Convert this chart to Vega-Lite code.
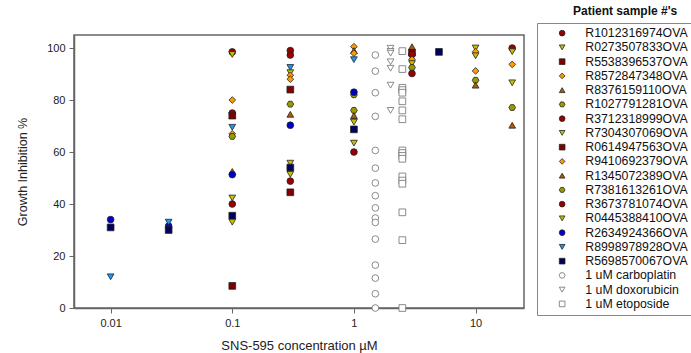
{
  "$schema": "https://vega.github.io/schema/vega-lite/v6.json",
  "width": 450,
  "height": 273,
  "autosize": "none",
  "padding": {"left": 74, "top": 35, "right": 167, "bottom": 45},
  "background": "white",
  "title": {"text": "Patient sample #'s", "anchor": "start", "frame": "group", "dx": 499, "offset": 5, "fontSize": 12, "fontWeight": "bold", "font": "Liberation Sans", "color": "#111"},
  "config": {
    "font": "Liberation Sans",
    "view": {"stroke": "#666", "strokeWidth": 1.5},
    "axis": {"grid": false, "domainColor": "#666", "domainWidth": 1.5, "tickColor": "#666", "tickWidth": 1, "tickSize": 5, "labelFontSize": 11, "labelColor": "#222", "titleFontSize": 13, "titleFontWeight": "normal", "titleColor": "#222", "labelFont": "Liberation Sans", "titleFont": "Liberation Sans"},
    "legend": {"orient": "none", "legendX": 463, "legendY": -12, "strokeColor": "#888", "padding": 4, "symbolOffset": 15, "labelOffset": 17, "labelFontSize": 12.3, "labelColor": "#111", "labelFont": "Liberation Sans", "symbolSize": 32, "symbolStrokeWidth": 0.8, "rowPadding": 1.25, "labelLimit": 200}
  },
  "data": {"values": [
    {"x": 0.01, "y": 34, "s": "R2634924366OVA"},
    {"x": 0.01, "y": 31, "s": "R5698570067OVA"},
    {"x": 0.01, "y": 12, "s": "R8998978928OVA"},
    {"x": 0.03, "y": 31.5, "s": "R2634924366OVA"},
    {"x": 0.03, "y": 30, "s": "R5698570067OVA"},
    {"x": 0.03, "y": 33, "s": "R8998978928OVA"},
    {"x": 0.1, "y": 98.5, "s": "R1012316974OVA"},
    {"x": 0.1, "y": 97.5, "s": "R0273507833OVA"},
    {"x": 0.1, "y": 80, "s": "\u00a0R8572847348OVA"},
    {"x": 0.1, "y": 75, "s": "R3712318999OVA"},
    {"x": 0.1, "y": 74, "s": "R8376159110OVA"},
    {"x": 0.1, "y": 74, "s": "R5538396537OVA"},
    {"x": 0.1, "y": 69.5, "s": "R8998978928OVA"},
    {"x": 0.1, "y": 67, "s": "R9410692379OVA"},
    {"x": 0.1, "y": 66, "s": "\u00a0R1027791281OVA"},
    {"x": 0.1, "y": 52.5, "s": "R1345072389OVA"},
    {"x": 0.1, "y": 51.3, "s": "R2634924366OVA"},
    {"x": 0.1, "y": 42.3, "s": "R7304307069OVA"},
    {"x": 0.1, "y": 40, "s": "\u00a0R3673781074OVA"},
    {"x": 0.1, "y": 35.5, "s": "R5698570067OVA"},
    {"x": 0.1, "y": 33, "s": "R0445388410OVA"},
    {"x": 0.1, "y": 8.5, "s": "R0614947563OVA"},
    {"x": 0.3, "y": 99, "s": "R1012316974OVA"},
    {"x": 0.3, "y": 97.3, "s": "R3712318999OVA"},
    {"x": 0.3, "y": 92.5, "s": "R8998978928OVA"},
    {"x": 0.3, "y": 90.5, "s": "R0273507833OVA"},
    {"x": 0.3, "y": 89.5, "s": "R9410692379OVA"},
    {"x": 0.3, "y": 88, "s": "\u00a0R8572847348OVA"},
    {"x": 0.3, "y": 84, "s": "R5538396537OVA"},
    {"x": 0.3, "y": 78.4, "s": "\u00a0R1027791281OVA"},
    {"x": 0.3, "y": 74.5, "s": "R8376159110OVA"},
    {"x": 0.3, "y": 70.3, "s": "R2634924366OVA"},
    {"x": 0.3, "y": 55.7, "s": "R7304307069OVA"},
    {"x": 0.3, "y": 54, "s": "R5698570067OVA"},
    {"x": 0.3, "y": 51.4, "s": "R0445388410OVA"},
    {"x": 0.3, "y": 48.8, "s": "\u00a0R3673781074OVA"},
    {"x": 0.3, "y": 44.5, "s": "R0614947563OVA"},
    {"x": 1, "y": 100.5, "s": "\u00a0R8572847348OVA"},
    {"x": 1, "y": 99, "s": "R8376159110OVA"},
    {"x": 1, "y": 98, "s": "R9410692379OVA"},
    {"x": 1, "y": 95.5, "s": "R8998978928OVA"},
    {"x": 1, "y": 82, "s": "R7381613261OVA"},
    {"x": 1, "y": 83, "s": "R2634924366OVA"},
    {"x": 1, "y": 76, "s": "\u00a0R1027791281OVA"},
    {"x": 1, "y": 74, "s": "R1345072389OVA"},
    {"x": 1, "y": 71.5, "s": "R7304307069OVA"},
    {"x": 1, "y": 68.7, "s": "R5698570067OVA"},
    {"x": 1, "y": 63.4, "s": "R0445388410OVA"},
    {"x": 1, "y": 60, "s": "\u00a0R3673781074OVA"},
    {"x": 3, "y": 100.5, "s": "R8376159110OVA"},
    {"x": 3, "y": 98.2, "s": "R0614947563OVA"},
    {"x": 3, "y": 97.5, "s": "R1012316974OVA"},
    {"x": 3, "y": 95.6, "s": "R9410692379OVA"},
    {"x": 3, "y": 94, "s": "R0273507833OVA"},
    {"x": 3, "y": 92.5, "s": "R7381613261OVA"},
    {"x": 3, "y": 90.2, "s": "R3712318999OVA"},
    {"x": 5, "y": 98.5, "s": "R5698570067OVA"},
    {"x": 10, "y": 100, "s": "R0273507833OVA"},
    {"x": 10, "y": 98.6, "s": "\u00a0R8572847348OVA"},
    {"x": 10, "y": 97, "s": "R7304307069OVA"},
    {"x": 10, "y": 91.2, "s": "R9410692379OVA"},
    {"x": 10, "y": 87.6, "s": "\u00a0R1027791281OVA"},
    {"x": 10, "y": 85.7, "s": "R8376159110OVA"},
    {"x": 20, "y": 100, "s": "R3712318999OVA"},
    {"x": 20, "y": 98.6, "s": "R0273507833OVA"},
    {"x": 20, "y": 93.7, "s": "\u00a0R8572847348OVA"},
    {"x": 20, "y": 86.6, "s": "R7304307069OVA"},
    {"x": 20, "y": 77.1, "s": "\u00a0R1027791281OVA"},
    {"x": 20, "y": 70.3, "s": "R8376159110OVA"},
    {"x": 1.5, "y": 97.3, "s": "1 uM carboplatin"},
    {"x": 1.5, "y": 91.1, "s": "1 uM carboplatin"},
    {"x": 1.5, "y": 82.8, "s": "1 uM carboplatin"},
    {"x": 1.5, "y": 73.7, "s": "1 uM carboplatin"},
    {"x": 1.5, "y": 60.6, "s": "1 uM carboplatin"},
    {"x": 1.5, "y": 53.8, "s": "1 uM carboplatin"},
    {"x": 1.5, "y": 48.1, "s": "1 uM carboplatin"},
    {"x": 1.5, "y": 43.2, "s": "1 uM carboplatin"},
    {"x": 1.5, "y": 38.5, "s": "1 uM carboplatin"},
    {"x": 1.5, "y": 34.6, "s": "1 uM carboplatin"},
    {"x": 1.5, "y": 32.9, "s": "1 uM carboplatin"},
    {"x": 1.5, "y": 26.5, "s": "1 uM carboplatin"},
    {"x": 1.5, "y": 16.5, "s": "1 uM carboplatin"},
    {"x": 1.5, "y": 11.5, "s": "1 uM carboplatin"},
    {"x": 1.5, "y": 5.5, "s": "1 uM carboplatin"},
    {"x": 1.5, "y": 0, "s": "1 uM carboplatin"},
    {"x": 2, "y": 99.9, "s": "1 uM doxorubicin"},
    {"x": 2, "y": 98.7, "s": "1 uM doxorubicin"},
    {"x": 2, "y": 98, "s": "1 uM doxorubicin"},
    {"x": 2, "y": 94.7, "s": "1 uM doxorubicin"},
    {"x": 2, "y": 92.2, "s": "1 uM doxorubicin"},
    {"x": 2, "y": 85.7, "s": "1 uM doxorubicin"},
    {"x": 2, "y": 76, "s": "1 uM doxorubicin"},
    {"x": 2.5, "y": 98.8, "s": "1 uM etoposide"},
    {"x": 2.5, "y": 91.9, "s": "1 uM etoposide"},
    {"x": 2.5, "y": 84.7, "s": "1 uM etoposide"},
    {"x": 2.5, "y": 83.8, "s": "1 uM etoposide"},
    {"x": 2.5, "y": 82.8, "s": "1 uM etoposide"},
    {"x": 2.5, "y": 79.5, "s": "1 uM etoposide"},
    {"x": 2.5, "y": 76, "s": "1 uM etoposide"},
    {"x": 2.5, "y": 72.6, "s": "1 uM etoposide"},
    {"x": 2.5, "y": 60.6, "s": "1 uM etoposide"},
    {"x": 2.5, "y": 59.6, "s": "1 uM etoposide"},
    {"x": 2.5, "y": 58.5, "s": "1 uM etoposide"},
    {"x": 2.5, "y": 57.4, "s": "1 uM etoposide"},
    {"x": 2.5, "y": 50.6, "s": "1 uM etoposide"},
    {"x": 2.5, "y": 49, "s": "1 uM etoposide"},
    {"x": 2.5, "y": 47.8, "s": "1 uM etoposide"},
    {"x": 2.5, "y": 36.8, "s": "1 uM etoposide"},
    {"x": 2.5, "y": 26.1, "s": "1 uM etoposide"},
    {"x": 2.5, "y": 0, "s": "1 uM etoposide"}
  ]},
  "mark": {"type": "point", "opacity": 1, "size": 45, "strokeWidth": 0.8, "clip": false},
  "encoding": {
    "x": {"field": "x", "type": "quantitative", "scale": {"type": "log", "domain": [0.005, 25], "nice": false},
      "axis": {"values": [0.01, 0.1, 1, 10], "format": "~g", "title": "SNS-595 concentration \u00b5M", "labelPadding": 4, "titlePadding": 11}},
    "y": {"field": "y", "type": "quantitative", "scale": {"domain": [0, 105], "nice": false},
      "axis": {"values": [0, 20, 40, 60, 80, 100], "title": "Growth Inhibition %", "titleFontSize": 12.5, "labelPadding": 4, "titlePadding": 17}},
    "fill": {"field": "s", "type": "nominal",
      "scale": {
        "domain": ["R1012316974OVA", "R0273507833OVA", "R5538396537OVA", "\u00a0R8572847348OVA", "R8376159110OVA", "\u00a0R1027791281OVA", "R3712318999OVA", "R7304307069OVA", "R0614947563OVA", "R9410692379OVA", "R1345072389OVA", "R7381613261OVA", "\u00a0R3673781074OVA", "R0445388410OVA", "R2634924366OVA", "R8998978928OVA", "R5698570067OVA", "1 uM carboplatin", "1 uM doxorubicin", "1 uM etoposide"],
        "range": ["#9a0000", "#c2c200", "#7f0000", "#ff9a00", "#b35a00", "#9a9a00", "#9a0000", "#c2c200", "#7f0000", "#ff9a00", "#b35a00", "#9a9a00", "#9a0000", "#c2c200", "#0000c8", "#1a96ff", "#00005e", "#ffffff", "#ffffff", "#ffffff"]
      },
      "legend": {"title": null}
    },
    "stroke": {"field": "s", "type": "nominal",
      "scale": {
        "domain": ["R1012316974OVA", "R0273507833OVA", "R5538396537OVA", "\u00a0R8572847348OVA", "R8376159110OVA", "\u00a0R1027791281OVA", "R3712318999OVA", "R7304307069OVA", "R0614947563OVA", "R9410692379OVA", "R1345072389OVA", "R7381613261OVA", "\u00a0R3673781074OVA", "R0445388410OVA", "R2634924366OVA", "R8998978928OVA", "R5698570067OVA", "1 uM carboplatin", "1 uM doxorubicin", "1 uM etoposide"],
        "range": ["#222222", "#222222", "#222222", "#222222", "#222222", "#222222", "#222222", "#222222", "#222222", "#222222", "#222222", "#222222", "#222222", "#222222", "#222222", "#222222", "#222222", "#6e6e6e", "#6e6e6e", "#6e6e6e"]
      },
      "legend": {"title": null}
    },
    "shape": {"field": "s", "type": "nominal",
      "scale": {
        "domain": ["R1012316974OVA", "R0273507833OVA", "R5538396537OVA", "\u00a0R8572847348OVA", "R8376159110OVA", "\u00a0R1027791281OVA", "R3712318999OVA", "R7304307069OVA", "R0614947563OVA", "R9410692379OVA", "R1345072389OVA", "R7381613261OVA", "\u00a0R3673781074OVA", "R0445388410OVA", "R2634924366OVA", "R8998978928OVA", "R5698570067OVA", "1 uM carboplatin", "1 uM doxorubicin", "1 uM etoposide"],
        "range": ["circle", "triangle-down", "square", "diamond", "triangle-up", "M-1,0L-0.5,-0.866L0.5,-0.866L1,0L0.5,0.866L-0.5,0.866Z", "circle", "triangle-down", "square", "diamond", "triangle-up", "M-1,0L-0.5,-0.866L0.5,-0.866L1,0L0.5,0.866L-0.5,0.866Z", "circle", "triangle-down", "circle", "triangle-down", "square", "circle", "triangle-down", "square"]
      },
      "legend": {"title": null}
    }
  }
}
